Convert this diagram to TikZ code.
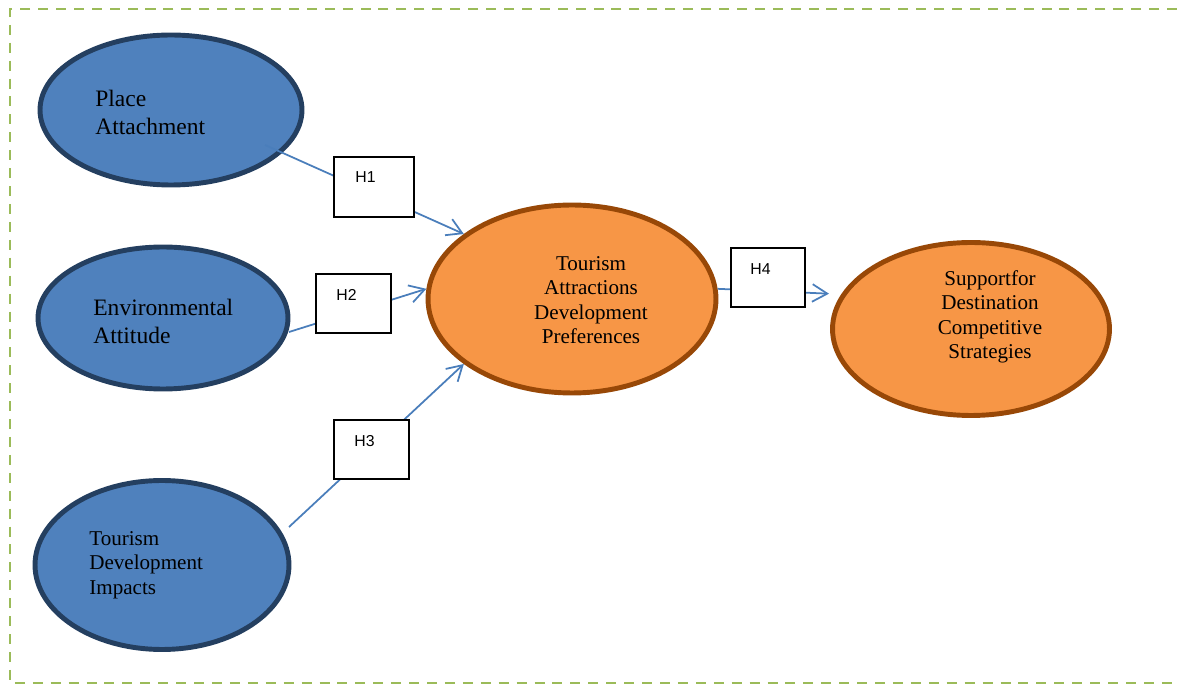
\documentclass[tikz,border=0pt]{standalone}
\usepackage{fontspec}
\setmainfont{Liberation Serif}
\newfontfamily\arialfont{Liberation Sans}
\usetikzlibrary{arrows.meta,shapes.geometric,positioning}
\usepackage{xcolor}
\definecolor{ovalblue}{HTML}{4F81BD}
\definecolor{ovalnavy}{HTML}{243F60}
\definecolor{ovalorange}{HTML}{F79646}
\definecolor{ovalbrown}{HTML}{984807}
\definecolor{linkblue}{HTML}{4A7EBB}
\definecolor{framegreen}{HTML}{9BBB59}

\begin{document}
\begin{tikzpicture}[
		x=0.02cm,y=-0.02cm,
		indep/.style={ellipse,draw=ovalnavy,line width=2.8pt,fill=ovalblue,inner sep=0pt},
		dep/.style={ellipse,draw=ovalbrown,line width=2.8pt,fill=ovalorange,inner sep=0pt},
		hyp/.style={draw=black,rectangle,line width=1.1pt,fill=white,inner sep=0pt},
		hlabel/.style={font=\arialfont\fontsize{9}{11}\selectfont,inner sep=0pt,anchor=west},
		bigtext/.style={font=\fontsize{13.4}{15.9}\selectfont,align=left,inner sep=0pt,anchor=west},
		smalltext/.style={font=\fontsize{12}{13.9}\selectfont,inner sep=0pt},
		link/.style={draw=linkblue,line width=1pt,-{Straight Barb[length=8.5pt,width=10pt]}}
		]
		
		\useasboundingbox (0,0) rectangle (1177,685);
		
		% Cornice tratteggiata
		\draw[framegreen,line width=1.6pt,dash pattern=on 5.7pt off 4.5pt] (1177,9) -- (10,9) -- (10,683) -- (1177,683);
		
		% Costrutti indipendenti
		\node[indep,minimum width=5.24cm,minimum height=3.0cm] (place) at (171,110) {};
		\node[indep,minimum width=5.0cm,minimum height=2.84cm] (env) at (163,318) {};
		\node[indep,minimum width=5.08cm,minimum height=3.38cm] (impacts) at (162,565) {};
		
		% Costrutti dipendenti
		\node[dep,minimum width=5.76cm,minimum height=3.76cm] (prefs) at (572,299) {};
		\node[dep,minimum width=5.54cm,minimum height=3.46cm] (support) at (971,329) {};
		
		% Testi
		\node[bigtext] (place-txt) at (95,112) {Place\\Attachment};
		\node[bigtext] (env-txt) at (93,321) {Environmental\\Attitude};
		\node[smalltext,align=left,anchor=west] (impacts-txt) at (89,565) {Tourism\\Development\\Impacts};
		\node[smalltext,align=center] (prefs-txt) at (591,300) {Tourism\\Attractions\\Development\\Preferences};
		\node[smalltext,align=center] (support-txt) at (990,317) {Supportfor\\Destination\\Competitive\\Strategies};
		
		% Ipotesi
		\coordinate (place-out) at (265,145);
		\coordinate (env-out) at (289,332);
		\coordinate (impacts-out) at (289,527);
		\draw[link] (place-out) -- (prefs.149);
		\draw[link] (env-out) -- (prefs.176);
		\draw[link] (impacts-out) -- (prefs.211);
		\draw[link,shorten >=7pt] (prefs.4) -- (support.165);
		
		\node[hyp,minimum width=1.6cm,minimum height=1.2cm] (h1) at (374,187) {};
		\node[hyp,minimum width=1.5cm,minimum height=1.18cm] (h2) at (353.5,303.5) {};
		\node[hyp,minimum width=1.5cm,minimum height=1.18cm] (h3) at (371.5,449.5) {};
		\node[hyp,minimum width=1.48cm,minimum height=1.18cm] (h4) at (768,277.5) {};
		\node[hlabel] (h1-txt) at (355,177) {H1};
		\node[hlabel] (h2-txt) at (336,295) {H2};
		\node[hlabel] (h3-txt) at (354,441) {H3};
		\node[hlabel] (h4-txt) at (750,269) {H4};
		
	\end{tikzpicture}
\end{document}
